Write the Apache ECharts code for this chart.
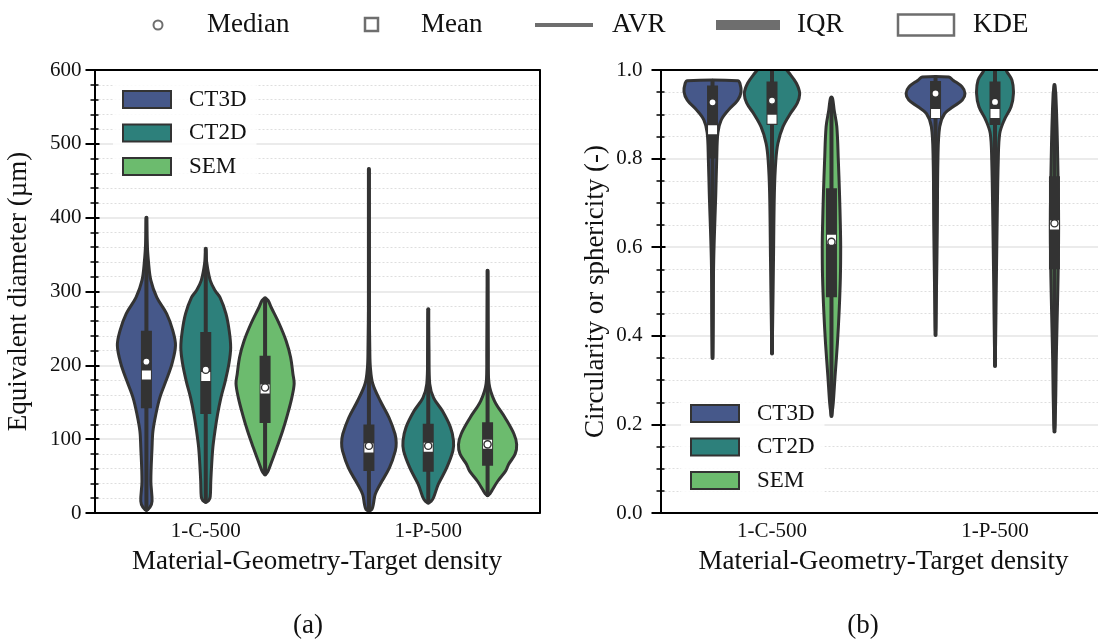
<!DOCTYPE html>
<html>
<head>
<meta charset="utf-8">
<script src="https://cdn.jsdelivr.net/npm/echarts@6/dist/echarts.min.js"></script>
<style>
  html, body { margin: 0; padding: 0; background: #ffffff; }
  #chart { width: 1098px; height: 643px; }
</style>
</head>
<body>
<div id="chart"></div>
<script>
// ---- data -------------------------------------------------------------
const categories = ['1-C-500', '1-P-500'];
const methods = ['CT3D', 'CT2D', 'SEM'];
const methodColors = ['#46588a', '#2d807b', '#6cbb6e'];

// Equivalent diameter (µm): kernel density profiles, [value, relative density],
// one profile per category (1-C-500, 1-P-500)
const diamKdeCT3D = [
  [[4,0],[8,0.12],[16,0.19],[43,0.15],[89,0.19],[111,0.22],[134,0.32],[156,0.45],[179,0.66],[202,0.86],[227,0.98],[247,0.89],[270,0.68],[292,0.35],[315,0.15],[340,0.07],[370,0.02],[400,0]],
  [[3,0],[5,0.1],[12,0.15],[25,0.21],[39,0.38],[61,0.69],[84,0.89],[95,0.92],[107,0.88],[129,0.68],[152,0.38],[175,0.13],[197,0.05],[220,0.03],[300,0.01],[466,0]]
];
const diamKdeCT2D = [
  [[15,0],[17,0.1],[22,0.15],[43,0.17],[66,0.20],[89,0.24],[111,0.31],[134,0.40],[156,0.51],[179,0.66],[202,0.78],[224,0.84],[247,0.79],[270,0.68],[292,0.48],[301,0.32],[315,0.15],[340,0.03],[358,0]],
  [[14,0],[16,0.1],[21,0.18],[39,0.34],[61,0.62],[84,0.83],[98,0.85],[116,0.75],[138,0.48],[156,0.18],[175,0.05],[220,0.02],[276,0]]
];
const diamKdeSEM = [
  [[52,0],[55,0.08],[66,0.19],[89,0.40],[111,0.59],[134,0.76],[156,0.90],[175,0.98],[188,0.94],[211,0.86],[233,0.71],[256,0.48],[279,0.20],[288,0.1],[291,0]],
  [[24,0],[26,0.08],[30,0.14],[43,0.34],[57,0.61],[66,0.71],[80,0.93],[93,0.98],[107,0.89],[129,0.59],[152,0.23],[175,0.05],[220,0.02],[328,0]]
];
// summary statistics, [method][category]
const diamLow    = [[4, 3], [15, 14], [52, 24]];
const diamHigh   = [[400, 466], [358, 276], [291, 328]];
const diamQ1     = [[142, 57], [134, 56], [122, 64]];
const diamQ3     = [[247, 120], [245, 121], [213, 123]];
const diamMedian = [[205, 91], [194, 91], [170, 93]];
const diamMean   = [[187, 88], [185, 89], [168, 93]];

// Circularity / sphericity (-)
const circKdeCT3D = [
  [[0.35,0],[0.42,0.02],[0.571,0.04],[0.722,0.11],[0.797,0.14],[0.858,0.18],[0.887,0.29],[0.910,0.54],[0.932,0.85],[0.951,0.96],[0.970,0.92],[0.976,0.85]],
  [[0.402,0],[0.42,0.01],[0.496,0.03],[0.646,0.06],[0.797,0.08],[0.872,0.14],[0.902,0.31],[0.917,0.59],[0.932,0.90],[0.947,0.99],[0.962,0.89],[0.977,0.59],[0.984,0.45]]
];
const circKdeCT2D = [
  [[0.36,0],[0.42,0.02],[0.571,0.05],[0.722,0.08],[0.797,0.13],[0.835,0.20],[0.872,0.37],[0.902,0.62],[0.925,0.85],[0.947,0.93],[0.970,0.82],[0.992,0.59],[1.01,0.35],[1.03,0]],
  [[0.332,0],[0.383,0.02],[0.496,0.04],[0.646,0.07],[0.797,0.11],[0.857,0.16],[0.887,0.31],[0.917,0.54],[0.947,0.62],[0.977,0.57],[0.996,0.40],[1.01,0.3],[1.03,0]]
];
const circKdeSEM = [
  [[0.219,0],[0.225,0.02],[0.248,0.06],[0.308,0.12],[0.383,0.20],[0.458,0.26],[0.533,0.30],[0.601,0.31],[0.646,0.30],[0.722,0.27],[0.797,0.23],[0.872,0.18],[0.91,0.09],[0.935,0.04],[0.938,0]],
  [[0.184,0],[0.20,0.02],[0.270,0.045],[0.345,0.06],[0.421,0.085],[0.496,0.11],[0.571,0.13],[0.646,0.14],[0.722,0.13],[0.797,0.11],[0.872,0.085],[0.947,0.045],[0.955,0.03],[0.966,0]]
];
const circLow    = [[0.35, 0.402], [0.36, 0.332], [0.219, 0.184]];
const circHigh   = [[0.976, 0.984], [1.0, 1.0], [0.938, 0.966]];
const circQ1     = [[0.80, 0.89], [0.876, 0.876], [0.487, 0.55]];
const circQ3     = [[0.965, 0.975], [0.974, 0.974], [0.733, 0.76]];
const circMedian = [[0.927, 0.947], [0.931, 0.928], [0.612, 0.654]];
const circMean   = [[0.865, 0.902], [0.889, 0.902], [0.618, 0.650]];

const legendKeys = ['Median', 'Mean', 'AVR', 'IQR', 'KDE'];

// ---- styling ----------------------------------------------------------
const FONT = '"Liberation Serif", "Times New Roman", serif';
const INK = '#111111';
const EDGE = '#333333';
const KEY_GRAY = '#6e6e6e';

const panels = [
  { kde: [diamKdeCT3D, diamKdeCT2D, diamKdeSEM], low: diamLow, high: diamHigh,
    q1: diamQ1, q3: diamQ3, med: diamMedian, mean: diamMean },
  { kde: [circKdeCT3D, circKdeCT2D, circKdeSEM], low: circLow, high: circHigh,
    q1: circQ1, q3: circQ3, med: circMedian, mean: circMean }
];

// One violin series per method and panel: KDE outline, whisker, IQR box, mean, median
function violinSeries(panel, m) {
  const P = panels[panel];
  return {
    type: 'custom',
    name: methods[m],
    xAxisIndex: panel,
    yAxisIndex: panel,
    clip: true,
    z: 2,
    itemStyle: { color: methodColors[m] },
    encode: { x: 0, y: 1 },
    data: categories.map((c, i) => [i, P.med[m][i]]),
    renderItem: function (params, api) {
      const ci = api.value(0);
      const slot = api.size([1, 0])[0] * 0.8 / methods.length;
      const half = slot / 2;
      const cx = api.coord([ci, 0])[0] + (m - (methods.length - 1) / 2) * slot;
      const py = v => api.coord([ci, v])[1];
      const prof = P.kde[m][ci];
      // right half runs bottom to top, left half comes back down; tips appear once
      const rightSide = prof.map(p => [cx + p[1] * half, py(p[0])]);
      const leftSide = prof.slice().reverse().filter(p => p[1] > 0)
        .map(p => [cx - p[1] * half, py(p[0])]);
      const pts = rightSide.concat(leftSide);
      const boxW = 11, sq = 9;
      const yQ1 = py(P.q1[m][ci]), yQ3 = py(P.q3[m][ci]);
      const yMean = py(P.mean[m][ci]), yMed = py(P.med[m][ci]);
      const cs = params.coordSys;
      return {
        type: 'group',
        clipPath: { type: 'rect', shape: { x: cs.x, y: cs.y, width: cs.width, height: cs.height } },
        children: [
          { type: 'polygon', shape: { points: pts, smooth: 0.35 },
            style: { fill: methodColors[m], stroke: EDGE, lineWidth: 3, lineJoin: 'round' } },
          { type: 'line', shape: { x1: cx, y1: py(P.low[m][ci]), x2: cx, y2: py(P.high[m][ci]) },
            style: { stroke: EDGE, lineWidth: 4, lineCap: 'round' } },
          { type: 'rect', shape: { x: cx - boxW / 2, y: yQ3, width: boxW, height: yQ1 - yQ3 },
            style: { fill: EDGE } },
          { type: 'rect', shape: { x: cx - sq / 2, y: yMean - sq / 2, width: sq, height: sq },
            style: { fill: '#ffffff' } },
          { type: 'circle', shape: { cx: cx, cy: yMed, r: 3.6 },
            style: { fill: '#ffffff', stroke: EDGE, lineWidth: 1.4 } }
        ]
      };
    }
  };
}

const grids = [
  { left: 94.5, top: 70, width: 445, height: 443, containLabel: false, outerBoundsMode: 'none' },
  { left: 660.5, top: 70, width: 446, height: 443, containLabel: false, outerBoundsMode: 'none' }
];

function bottomAxis(gi) {
  return {
    type: 'category', gridIndex: gi, position: 'bottom', data: categories, z: 10,
    axisLine: { show: true, onZero: false, lineStyle: { color: '#000', width: 2 } },
    axisTick: { show: false },
    axisLabel: { fontFamily: FONT, fontSize: 21, color: INK, margin: 8 },
    splitLine: { show: false },
    name: 'Material-Geometry-Target density', nameLocation: 'middle', nameGap: 35,
    nameTextStyle: { fontFamily: FONT, fontSize: 27, color: INK }
  };
}
function topAxis(gi) {
  return {
    type: 'category', gridIndex: gi, position: 'top', data: categories, z: 10,
    axisLine: { show: true, onZero: false, lineStyle: { color: '#000', width: 2 } },
    axisTick: { show: false }, axisLabel: { show: false }, splitLine: { show: false }
  };
}
function mainYAxis(gi, max, interval, minorN, name, nameGap, margin, fmt) {
  return {
    type: 'value', gridIndex: gi, position: 'left', min: 0, max: max, interval: interval,
    axisLine: { show: true, onZero: false, lineStyle: { color: '#000', width: 2 } },
    axisTick: { show: true, inside: false, length: 9, lineStyle: { color: '#000', width: 2 } },
    minorTick: { show: true, splitNumber: minorN, length: 4, lineStyle: { color: '#000', width: 1.5 } },
    axisLabel: { fontFamily: FONT, fontSize: 21, color: INK, margin: margin, formatter: fmt },
    splitLine: { show: true, lineStyle: { color: '#e4e4e4', width: 1.5 } },
    minorSplitLine: { show: true, lineStyle: { color: '#dedede', width: 1, type: [2, 2] } },
    name: name, nameLocation: 'middle', nameGap: nameGap, nameRotate: 90,
    nameTextStyle: { fontFamily: FONT, fontSize: 27, color: INK }
  };
}
function innerYAxis(gi, max, interval, minorN) {
  return {
    type: 'value', gridIndex: gi, position: 'left', min: 0, max: max, interval: interval, z: 10,
    axisLine: { show: false, onZero: false },
    axisTick: { show: true, inside: true, length: 5, lineStyle: { color: '#000', width: 2 } },
    minorTick: { show: true, splitNumber: minorN, length: 4, lineStyle: { color: '#000', width: 1.5 } },
    axisLabel: { show: false }, splitLine: { show: false }, minorSplitLine: { show: false }
  };
}
function rightYAxis(gi, max, interval) {
  return {
    type: 'value', gridIndex: gi, position: 'right', min: 0, max: max, interval: interval, z: 10,
    axisLine: { show: true, onZero: false, lineStyle: { color: '#000', width: 2 } },
    axisTick: { show: false }, axisLabel: { show: false }, splitLine: { show: false }
  };
}

function methodLegend(left, top) {
  return {
    data: methods, orient: 'vertical', left: left, top: top,
    padding: [10, 10, 10, 9], itemWidth: 48, itemHeight: 17, itemGap: 10.5,
    icon: 'rect', selectedMode: false,
    backgroundColor: 'rgba(255,255,255,0.85)',
    itemStyle: { borderColor: EDGE, borderWidth: 2 },
    textStyle: { fontFamily: FONT, fontSize: 23, color: INK, padding: [0, 0, 0, 13] }
  };
}

// key row at the top of the figure
const keyY = 25;
const keyText = (x, s) => ({ type: 'text', x: x, y: keyY,
  style: { text: s, font: '27px ' + FONT, fill: INK, verticalAlign: 'middle' } });
const keyGraphics = [
  { type: 'circle', shape: { cx: 158, cy: keyY, r: 4.5 }, style: { fill: '#fff', stroke: KEY_GRAY, lineWidth: 2 } },
  keyText(207, legendKeys[0]),
  { type: 'rect', shape: { x: 365, y: keyY - 7, width: 13, height: 13 }, style: { fill: '#fff', stroke: KEY_GRAY, lineWidth: 2.5 } },
  keyText(421, legendKeys[1]),
  { type: 'line', shape: { x1: 535, y1: keyY, x2: 593, y2: keyY }, style: { stroke: KEY_GRAY, lineWidth: 4 } },
  keyText(612, legendKeys[2]),
  { type: 'rect', shape: { x: 716, y: keyY - 5, width: 64, height: 10 }, style: { fill: KEY_GRAY } },
  keyText(797, legendKeys[3]),
  { type: 'rect', shape: { x: 898, y: keyY - 10.5, width: 56, height: 21 }, style: { fill: 'none', stroke: KEY_GRAY, lineWidth: 2.5 } },
  keyText(973, legendKeys[4]),
  { type: 'text', x: 308, y: 626, style: { text: '(a)', font: '27px ' + FONT, fill: INK, align: 'center', verticalAlign: 'middle' } },
  { type: 'text', x: 863, y: 626, style: { text: '(b)', font: '27px ' + FONT, fill: INK, align: 'center', verticalAlign: 'middle' } }
];

const option = {
  animation: false,
  backgroundColor: '#ffffff',
  grid: grids,
  xAxis: [bottomAxis(0), bottomAxis(1), topAxis(0), topAxis(1)],
  yAxis: [
    mainYAxis(0, 600, 100, 5, 'Equivalent diameter (µm)', 62, 13, v => String(v)),
    mainYAxis(1, 1, 0.2, 4, 'Circularity or sphericity (-)', 51, 18, v => v.toFixed(1)),
    innerYAxis(0, 600, 100, 5),
    innerYAxis(1, 1, 0.2, 4),
    rightYAxis(0, 600, 100),
    rightYAxis(1, 1, 0.2)
  ],
  legend: [methodLegend(113, 78), methodLegend(681, 392)],
  graphic: keyGraphics,
  series: [0, 1].flatMap(p => methods.map((_, m) => violinSeries(p, m)))
};

const chart = echarts.init(document.getElementById('chart'), null, { renderer: 'canvas' });
chart.setOption(option);
</script>
</body>
</html>
